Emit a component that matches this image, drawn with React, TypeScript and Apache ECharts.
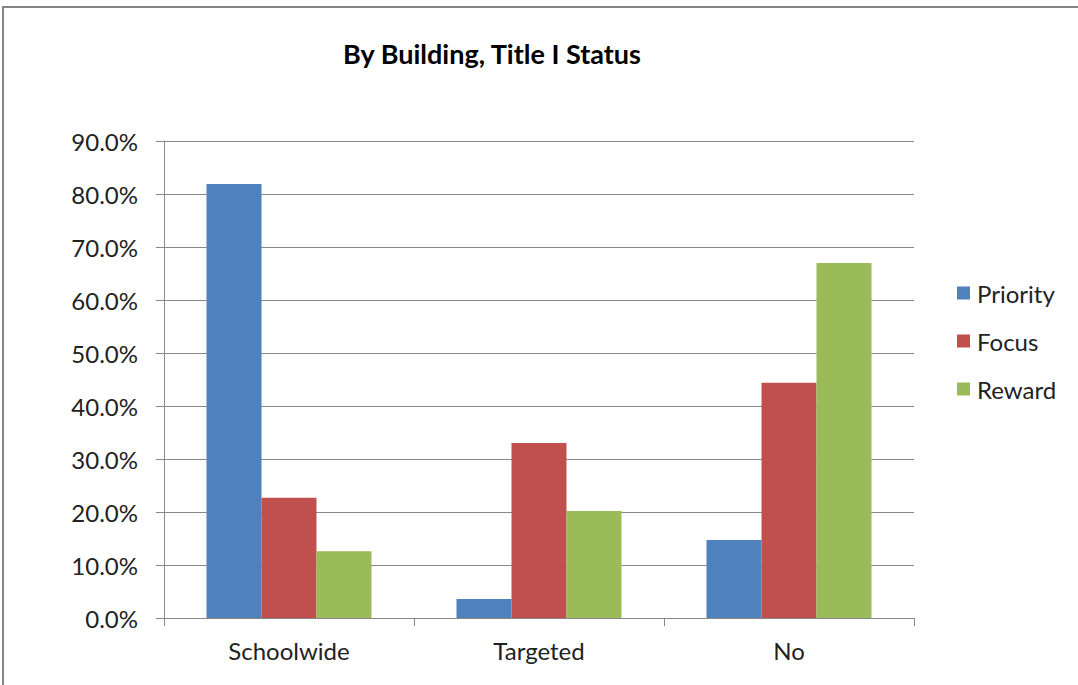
import React, { useEffect, useRef } from "react";
import * as echarts from "echarts";

const categories = ["Schoolwide", "Targeted", "No"];
const seriesNames = ["Priority", "Focus", "Reward"];
const priority = [81.9, 3.6, 14.7];
const focus = [22.7, 33.0, 44.4];
const reward = [12.6, 20.2, 67.0];
const colors = ["#4F81BD", "#C0504D", "#9BBB59"];
const yTicks = [0, 10, 20, 30, 40, 50, 60, 70, 80, 90];

const FONT = "Lato, 'Open Sans', sans-serif";

export default function App() {
  const ref = useRef<HTMLDivElement>(null);
  useEffect(() => {
    if (!ref.current) return;
    const chart = echarts.init(ref.current, undefined, { renderer: "svg" });
    const values = [priority, focus, reward];
    chart.setOption({
      animation: false,
      backgroundColor: "#ffffff",
      textStyle: { fontFamily: FONT },
      title: {
        text: "By Building, Title I Status",
        left: 487,
        top: 35,
        textAlign: "center",
        textStyle: { fontFamily: FONT, fontSize: 27, fontWeight: "bold", color: "#000" },
      },
      graphic: [
        {
          type: "rect",
          shape: { x: 3, y: 7, width: 1100, height: 700 },
          style: { fill: "none", stroke: "#868686", lineWidth: 2 },
          silent: true,
        },
      ],
      legend: {
        orient: "vertical",
        left: 957,
        top: 281,
        padding: 0,
        itemWidth: 13,
        itemHeight: 13,
        itemGap: 24,
        icon: "rect",
        data: seriesNames,
        textStyle: { fontFamily: FONT, fontSize: 24, color: "#222", padding: [0, 0, 0, 2] },
      },
      grid: { left: 164, right: 1078 - 914, top: 141, bottom: 685 - 618 },
      xAxis: {
        type: "category",
        data: categories,
        axisLine: { lineStyle: { color: "#888", width: 1 } },
        axisTick: { show: true, length: 8, lineStyle: { color: "#888" } },
        axisLabel: { margin: 20, fontSize: 24, color: "#222", fontFamily: FONT },
      },
      yAxis: {
        type: "value",
        min: yTicks[0],
        max: yTicks[yTicks.length - 1],
        interval: 10,
        axisLine: { show: true, lineStyle: { color: "#888" } },
        axisTick: { show: true, length: 8, lineStyle: { color: "#888" } },
        splitLine: { lineStyle: { color: "#888", width: 1 } },
        axisLabel: {
          margin: 26,
          fontSize: 24,
          color: "#222",
          fontFamily: FONT,
          formatter: (v: number) => v.toFixed(1) + "%",
        },
      },
      series: seriesNames.map((name, i) => ({
        name,
        type: "bar",
        data: values[i],
        barGap: "0%",
        barCategoryGap: "34%",
        itemStyle: { color: colors[i] },
      })),
    });
    return () => chart.dispose();
  }, []);
  return (
    <div
      ref={ref}
      style={{ position: "fixed", left: 0, top: 0, width: 1078, height: 685 }}
    />
  );
}
